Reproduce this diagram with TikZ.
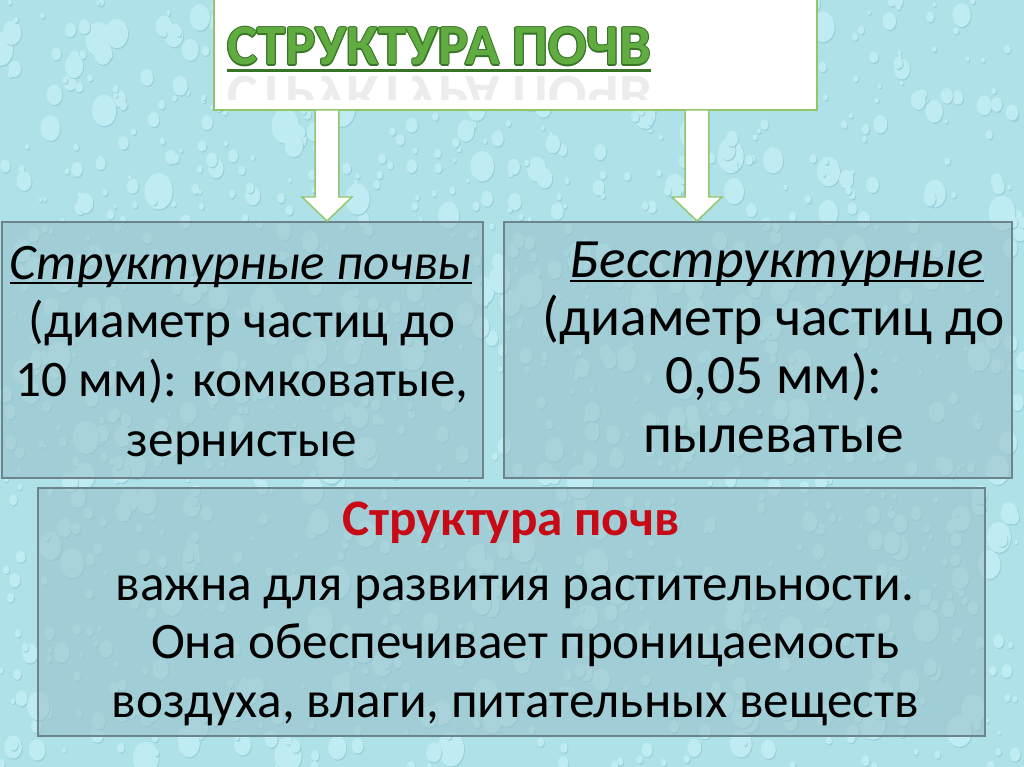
\documentclass[tikz,border=0pt]{standalone}
\usepackage{fontspec}
\setmainfont{Carlito}
\usetikzlibrary{calc}
\definecolor{sky}    {RGB}{174,225,232}
\definecolor{dropc}  {RGB}{190,236,242}
\definecolor{dropd}  {RGB}{150,206,218}
\definecolor{boxfill}{RGB}{152,192,201}
\definecolor{boxline}{RGB}{108,132,138}
\definecolor{tgreen} {RGB}{96,172,64}
\definecolor{tdark}  {RGB}{56,116,38}
\definecolor{aline}  {RGB}{146,198,104}
\definecolor{hred}   {RGB}{200,10,22}
\tikzset{
    panel/.style={draw=boxline, line width=1.4pt, fill=boxfill, fill opacity=0.55, inner sep=0pt},
    paneltext/.style={align=center, text=black, inner sep=0pt, anchor=base},
    headrule/.style={black, line width=1.8pt},
    titlebox/.style={draw=aline, line width=1pt, fill=white, inner sep=0pt},
    titletext/.style={font=\fontsize{40}{46}\selectfont\bfseries, inner sep=0pt, anchor=base west},
    blockarr/.style={draw=aline, fill=white, line width=1pt, line join=miter,
      to path={let \p1=(\tikztostart), \p2=(\tikztotarget) in
        (\x1-8.4pt,\y1) -- (\x1-8.4pt,\y2+16.9pt) -- (\x1-17.6pt,\y2+16.9pt) -- (\tikztotarget)
        -- (\x1+17.6pt,\y2+16.9pt) -- (\x1+8.4pt,\y2+16.9pt) -- (\x1+8.4pt,\y1)}}
}
\begin{document}
\begin{tikzpicture}[x=0.703125pt, y=-0.703125pt]
 \useasboundingbox (0,0) rectangle (1024,767);
 % background with drops
 \fill[sky] (0,0) rectangle (1024,767);
 \begin{scope}
   \clip (0,0) rectangle (1024,767);
   \pgfmathsetseed{11}
   \foreach \i in {1,...,1300}{
     \pgfmathsetmacro{\dx}{rnd*1024}
     \pgfmathsetmacro{\dy}{rnd*767}
     \pgfmathsetmacro{\dr}{1.2+rnd*rnd*9}
     \fill[dropd] (\dx,\dy) ++(0.6pt,-0.8pt) ellipse [x radius=\dr pt, y radius=1.3*\dr pt];
     \fill[dropc] (\dx,\dy) ellipse [x radius=\dr pt, y radius=1.3*\dr pt];
   }
 \end{scope}
 % boxes
 \node[titlebox, minimum width=424pt, minimum height=78.8pt] (title) at (515.5,54) {};
 \node[panel, minimum width=338.2pt, minimum height=180pt] (lbox) at (242.5,350) {};
 \node[panel, minimum width=357.2pt, minimum height=180pt] (rbox) at (758,350) {};
 \node[panel, minimum width=665.9pt, minimum height=174.4pt] (bbox) at (511.5,612) {};
 % title
 \begin{scope}
   \clip (215,73) rectangle (700,100);
   \node[titletext, text=gray, opacity=0.15, yscale=-1, transform shape] at (227,77) {СТРУКТУРА ПОЧВ};
 \end{scope}
 \foreach \a in {0,45,...,315}
   \node[titletext, text=tdark] at ($(227,65)+(\a:1.1)$) {СТРУКТУРА ПОЧВ};
 \node[titletext, text=tgreen] (ttl) at (227,65) {СТРУКТУРА ПОЧВ};
 \draw[tdark, line width=2pt] ([yshift=-4pt]ttl.base west) -- ([yshift=-4pt]ttl.base east);
 % arrows
 \coordinate (lx) at (327,0);
 \coordinate (rx) at (697,0);
 \draw[blockarr] (lx |- title.south) to (lx |- lbox.north);
 \draw[blockarr] (rx |- title.south) to (rx |- rbox.north);
 % left panel
 \node[paneltext, font=\fontsize{36}{41.5}\selectfont\itshape] (lhead) at (241,279) {Структурные почвы};
 \draw[headrule] ([yshift=-2.8pt]lhead.base west) -- ([yshift=-2.8pt]lhead.base east);
 \node[paneltext, font=\fontsize{36}{41.5}\selectfont] (ltxt) at (242,456)
   {(диаметр частиц до\\10 мм): комковатые,\\зернистые};
 % right panel
 \node[paneltext, font=\fontsize{39}{41}\selectfont\itshape] (rhead) at (777,277) {Бесструктурные};
 \draw[headrule] ([yshift=-2.8pt]rhead.base west) -- ([yshift=-2.8pt]rhead.base east);
 \node[paneltext, font=\fontsize{39}{41}\selectfont] (rtxt) at (774,452)
   {(диаметр частиц до\\0,05 мм):\\пылеватые};
 % bottom panel
 \node[paneltext, font=\fontsize{36}{40}\selectfont\bfseries, text=hred] (bhead) at (511,535)
   {Структура почв};
 \node[paneltext, font=\fontsize{36}{40.8}\selectfont] (btxt) at (515,717)
   {важна для развития растительности.\\\hspace*{0.4em}Она обеспечивает проницаемость\\воздуха, влаги, питательных веществ};
\end{tikzpicture}
\end{document}
